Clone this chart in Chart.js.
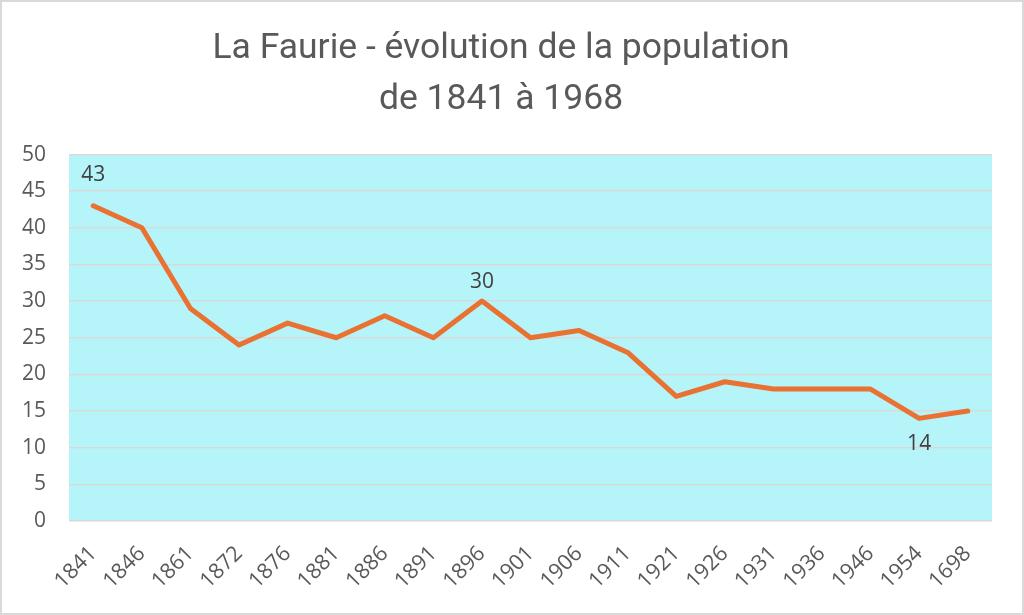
<!DOCTYPE html>
<html>
<head>
<meta charset="utf-8">
<script src="https://cdn.jsdelivr.net/npm/chart.js@4"></script>
<style>
html,body{margin:0;padding:0;background:#fff;}
#wrap{position:absolute;left:0;top:0;width:1024px;height:615px;box-sizing:border-box;border:2px solid #d9d9d9;background:#fff;}
canvas{position:absolute;left:0;top:0;}
</style>
</head>
<body>
<div id="wrap"></div>
<canvas id="c" width="1024" height="615"></canvas>
<script>
const categories = ["1841","1846","1861","1872","1876","1881","1886","1891","1896","1901","1906","1911","1921","1926","1931","1936","1946","1954","1698"];
const population = [43,40,29,24,27,25,28,25,30,25,26,23,17,19,18,18,18,14,15];
const labelIndexes = [0,8,17];
const titleLines = ["La Faurie - évolution de la population","de 1841 à 1968"];

// pixel offsets of the value labels from their points (style, not data)
const LABEL_OFFSETS = {0:-31, 8:-19, 17:26};

const plotBg = {
  id:'plotBg',
  beforeDraw(chart){
    const {ctx, chartArea:a} = chart;
    ctx.save();
    ctx.fillStyle = '#b5f4f9';
    ctx.fillRect(a.left, a.top, a.right-a.left, a.bottom-a.top);
    ctx.restore();
  }
};
const dataLabels = {
  id:'dataLabels',
  afterDatasetsDraw(chart){
    const {ctx} = chart;
    const meta = chart.getDatasetMeta(0);
    ctx.save();
    ctx.font = '21px "Open Sans", sans-serif';
    ctx.fillStyle = '#404040';
    ctx.textAlign = 'center';
    ctx.textBaseline = 'middle';
    labelIndexes.forEach(i=>{
      const p = meta.data[i];
      ctx.fillText(String(population[i]), p.x, p.y + LABEL_OFFSETS[i]);
    });
    ctx.restore();
  }
};

new Chart(document.getElementById('c'), {
  type:'line',
  data:{
    labels: categories,
    datasets:[{
      data: population,
      borderColor:'#e97132',
      borderWidth:5,
      pointRadius:0,
      tension:0,
      borderJoinStyle:'round',
      borderCapStyle:'round'
    }]
  },
  options:{
    responsive:false,
    animation:false,
    layout:{padding:{left:10,right:32,top:0,bottom:0}},
    plugins:{
      legend:{display:false},
      tooltip:{enabled:false},
      title:{
        display:true,
        text:titleLines,
        color:'#595959',
        font:{family:'Roboto', size:35.5, weight:'normal', lineHeight:1.43},
        padding:{top:24,bottom:29}
      }
    },
    scales:{
      x:{
        offset:true,
        grid:{display:false},
        border:{display:false},
        ticks:{color:'#595959', font:{family:'"Open Sans"', size:21.5}, maxRotation:45, minRotation:45, padding:12},
        afterFit(s){ s.height = 94; }
      },
      y:{
        min:0, max:50,
        grid:{color:'#d9d9d9', lineWidth:1.5, drawTicks:false},
        border:{display:false},
        ticks:{stepSize:5, color:'#595959', font:{family:'"Open Sans"', size:21}, padding:23},
        afterFit(s){ s.width = 59; }
      }
    }
  },
  plugins:[plotBg, dataLabels]
});
</script>
</body>
</html>
